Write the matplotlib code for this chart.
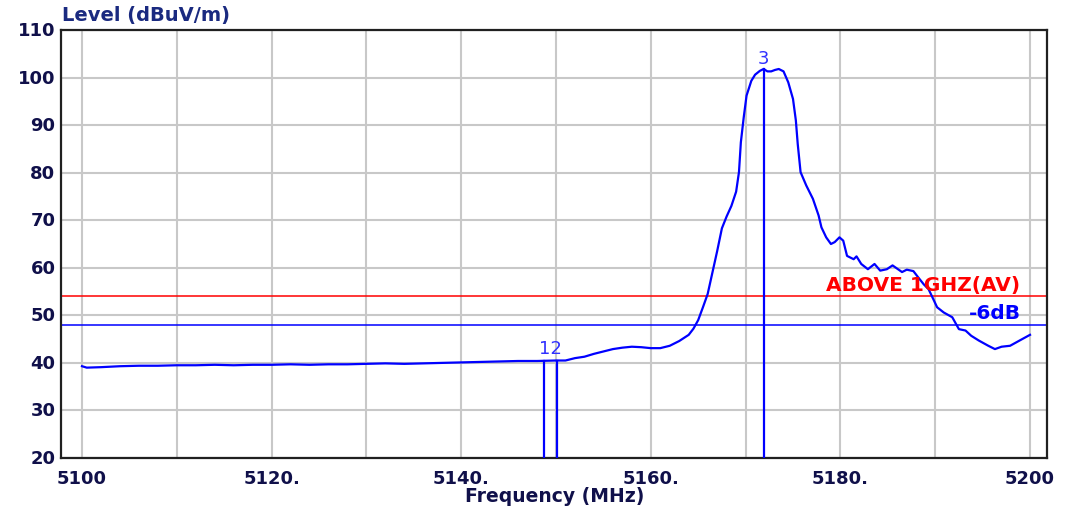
import matplotlib
matplotlib.use("Agg")
import matplotlib.pyplot as plt

# ---- data ----
freq = [5100, 5100.5, 5102, 5104, 5106, 5108, 5110, 5112, 5114, 5116, 5118, 5120,
        5122, 5124, 5126, 5128, 5130, 5132, 5134, 5136, 5138, 5140, 5142, 5144,
        5146, 5148, 5150, 5151, 5152, 5153, 5154, 5155, 5156, 5157, 5158, 5159,
        5160, 5161, 5162, 5163, 5164, 5164.5, 5165, 5165.5, 5166, 5166.5, 5167,
        5167.5, 5168, 5168.5, 5169, 5169.3, 5169.5, 5169.8, 5170.1, 5170.6, 5171,
        5171.5, 5171.9, 5172.3, 5172.7, 5173.1, 5173.5, 5174, 5174.5, 5175,
        5175.3, 5175.5, 5175.8, 5176.4, 5177.1, 5177.7, 5178, 5178.5, 5179,
        5179.4, 5179.9, 5180.3, 5180.7, 5181.4, 5181.7, 5182.2, 5182.9, 5183.6,
        5184.2, 5184.9, 5185.5, 5186, 5186.5, 5187, 5187.7, 5188.2, 5188.8,
        5189.3, 5189.8, 5190.2, 5190.9, 5191.8, 5192.5, 5193.2, 5193.8, 5194.6,
        5195.6, 5196.3, 5197, 5197.9, 5198.9, 5200]
level = [39.3, 39.0, 39.1, 39.3, 39.4, 39.4, 39.5, 39.5, 39.6, 39.5, 39.6, 39.6,
         39.7, 39.6, 39.7, 39.7, 39.8, 39.9, 39.8, 39.9, 40.0, 40.1, 40.2, 40.3,
         40.4, 40.4, 40.5, 40.5, 41.0, 41.3, 41.9, 42.4, 42.9, 43.2, 43.4, 43.3,
         43.1, 43.1, 43.6, 44.6, 45.9, 47.2, 49.0, 51.7, 54.5, 59.0, 63.5,
         68.3, 70.8, 73.0, 76.0, 80.1, 86.4, 91.6, 96.2, 99.3, 100.6,
         101.4, 101.8, 101.3, 101.3, 101.6, 101.8, 101.3, 99.0, 95.5,
         91.0, 86.0, 80.1, 77.3, 74.5, 71.0, 68.5, 66.4, 65.0,
         65.4, 66.4, 65.7, 62.5, 61.8, 62.4, 60.8, 59.7, 60.8,
         59.4, 59.7, 60.5, 59.8, 59.1, 59.6, 59.3, 58.0, 56.5,
         55.5, 53.4, 51.7, 50.6, 49.6, 47.1, 46.8, 45.7, 44.7,
         43.6, 42.9, 43.4, 43.6, 44.7, 45.9]

marker_labels = ["1", "2", "3"]
marker_freq = [5148.7, 5150.1, 5171.9]
marker_level = [40.4, 40.5, 101.8]

limit_level = 54
limit_label = "ABOVE 1GHZ(AV)"
margin_level = 48
margin_label = "-6dB"

xticks = [5100, 5120, 5140, 5160, 5180, 5200]
xtick_labels = ["5100", "5120.", "5140.", "5160.", "5180.", "5200"]
yticks = [20, 30, 40, 50, 60, 70, 80, 90, 100, 110]
ytick_labels = ["20", "30", "40", "50", "60", "70", "80", "90", "100", "110"]

# ---- figure ----
plt.rcParams['font.family'] = ['DejaVu Sans']
txtc = '#10104a'
fig = plt.figure(figsize=(10.67, 5.10), dpi=100)
ax = fig.add_axes([61/1067, 1 - 459/510, (1047-61)/1067, (459-31)/510])
ax.set_xlim(5100 - 21/9.48, 5200 + 17/9.48)
ax.set_ylim(20, 110)

for f in range(5100, 5201, 10):
    ax.axvline(f, color='#c8c8c8', lw=1.5, zorder=0)
for v in yticks:
    ax.axhline(v, color='#c8c8c8', lw=1.5, zorder=0)

ax.axhline(limit_level, color='#ff0000', lw=1.1, zorder=2)
ax.axhline(margin_level, color='#0000ff', lw=1.1, zorder=2)

ax.plot(freq, level, color='#0000ff', lw=1.6, zorder=3)

for lab, f, v in zip(marker_labels, marker_freq, marker_level):
    ax.plot([f, f], [20, v], color='#0000ff', lw=1.6, zorder=3)

ax.text(5149.4, 41.3, "12", color='#3030ff', fontsize=13, ha='center', va='bottom', zorder=4)
ax.text(5171.9, 102.3, "3", color='#3030ff', fontsize=13, ha='center', va='bottom', zorder=4)

ax.text(5199.0, 54.5, limit_label, color='#ff0000', fontsize=14.5, fontweight='bold',
        ha='right', va='bottom', zorder=4)
ax.text(5199.0, 48.5, margin_label, color='#0000ff', fontsize=14.5, fontweight='bold',
        ha='right', va='bottom', zorder=4)

ax.set_xticks(xticks)
ax.set_xticklabels(xtick_labels, fontsize=13, fontweight='bold', color=txtc)
ax.set_yticks(yticks)
ax.set_yticklabels(ytick_labels, fontsize=13, fontweight='bold', color=txtc)
ax.tick_params(axis='y', length=0, pad=4)
ax.tick_params(axis='x', length=0, pad=8)
for lbl in ax.get_yticklabels():
    lbl.set_verticalalignment('center')
for s in ax.spines.values():
    s.set_color('#202020')
    s.set_linewidth(1.6)

ax.set_xlabel("Frequency (MHz)", fontsize=13.5, fontweight='bold', color=txtc)
ax.xaxis.set_label_coords((555 - 61) / 986, (459 - 487) / 428)
fig.text(62/1067, 1 - 16/510, "Level (dBuV/m)", fontsize=14, fontweight='bold',
         color='#1a2a80', ha='left', va='center')

fig.savefig("out.png", dpi=100)
